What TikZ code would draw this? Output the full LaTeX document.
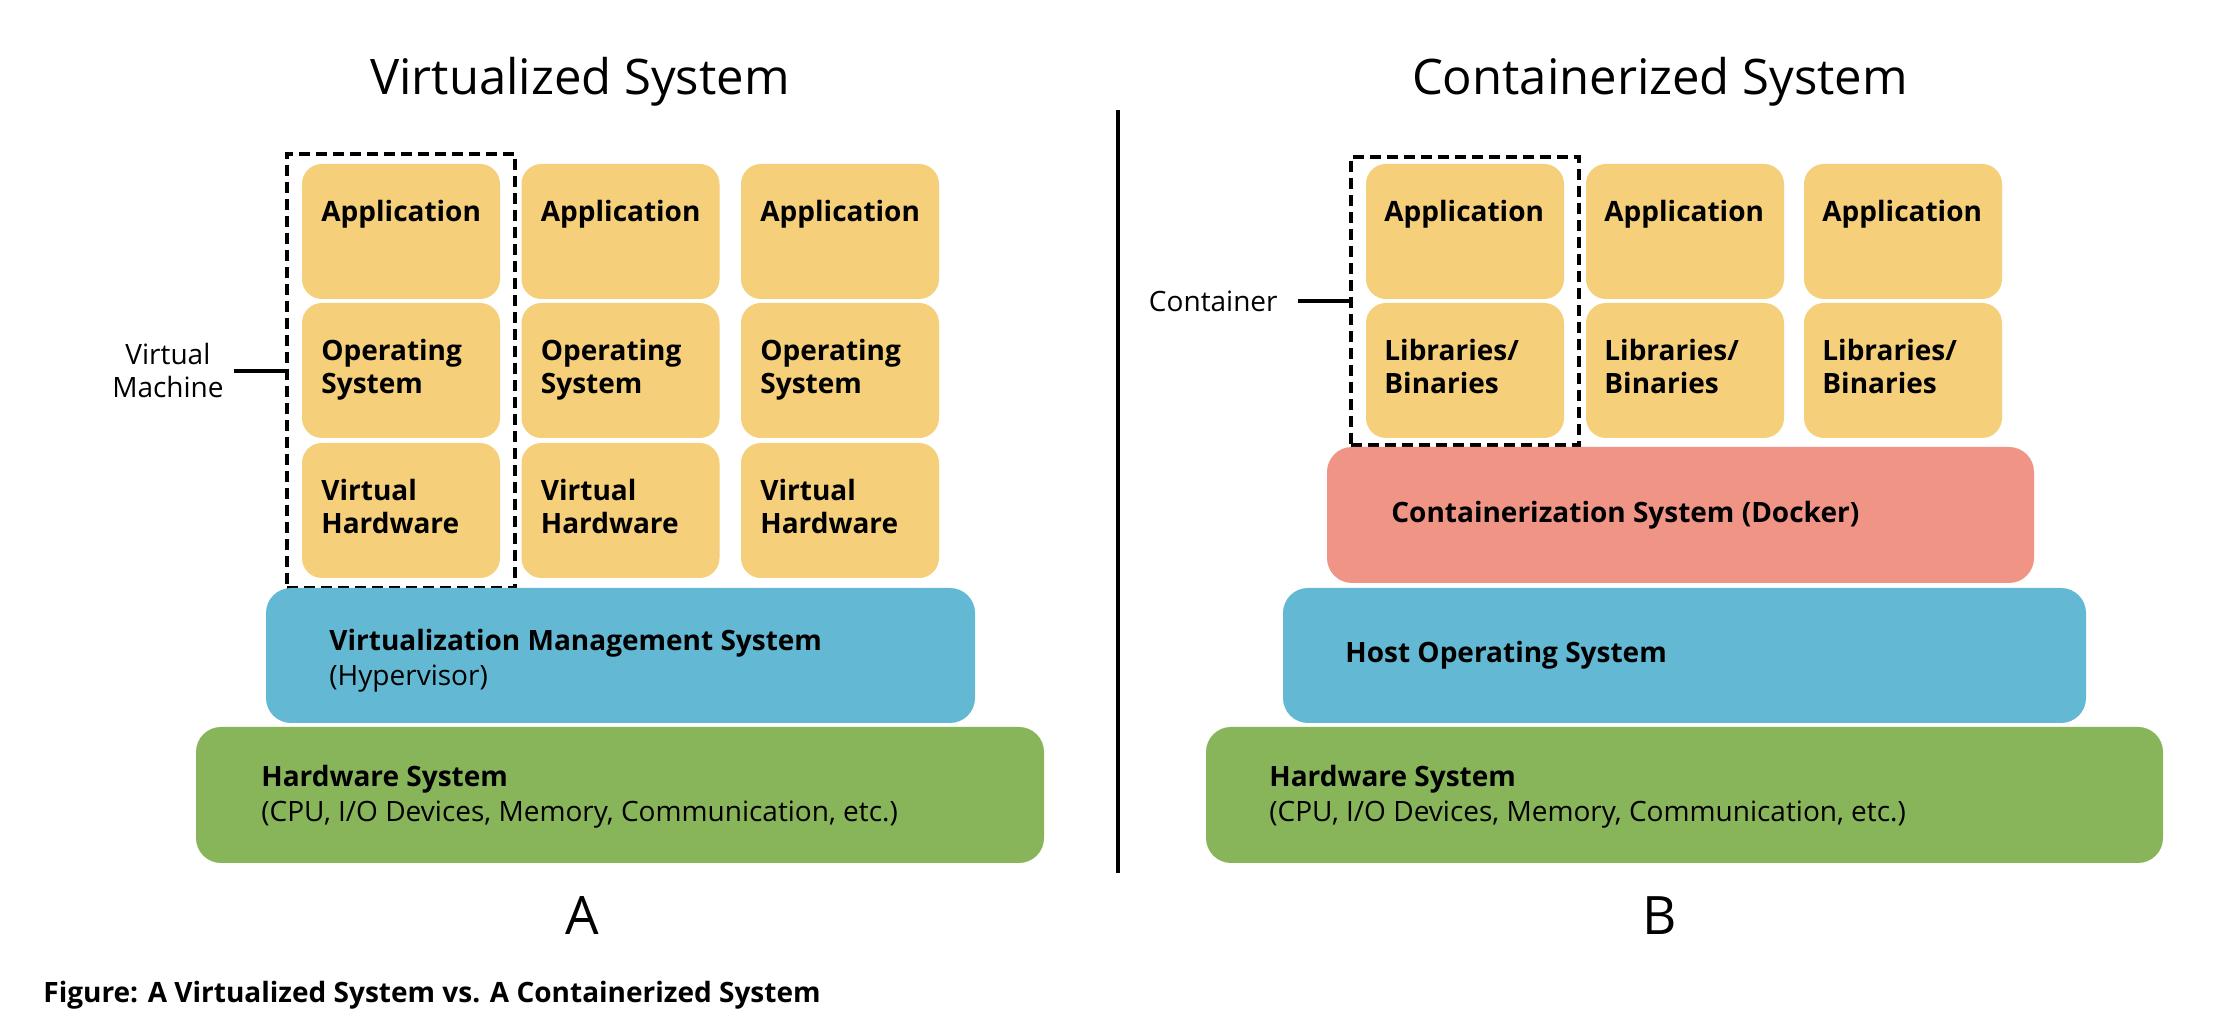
\documentclass[tikz,border=0pt]{standalone}
\usepackage{fontspec}
\setmainfont{Open Sans}
\usetikzlibrary{fit,positioning}

\begin{document}
\begin{tikzpicture}[x=0.5pt,y=0.5pt,
  layer/.style={inner sep=0pt, outer sep=0pt, anchor=north west},
  tile/.style={layer, fill=tileColor, rounded corners=10pt, minimum width=99pt, minimum height=67.5pt},
  slab/.style={layer, rounded corners=12.5pt, minimum height=67.5pt},
  tilelabel/.style={anchor=base west, inner sep=0pt, align=left, font=\fontsize{14}{16.5}\selectfont\bfseries},
  slablabel/.style={anchor=base west, inner sep=0pt, align=left, font=\fontsize{14}{17.5}\selectfont},
  frame/.style={draw=black, line width=2pt, dash pattern=on 5.5pt off 3pt, inner xsep=7.5pt, inner ysep=5pt},
  tick/.style={draw=black, line width=2pt},
  sidelabel/.style={anchor=east, inner sep=0pt, align=center, font=\fontsize{14}{16.5}\selectfont},
  heading/.style={anchor=base, inner sep=0pt, font=\fontsize{24.5}{28}\selectfont},
  letter/.style={anchor=base, inner sep=0pt, font=\fontsize{26.5}{30}\selectfont}]
\definecolor{tileColor}{RGB}{245,207,121}
\definecolor{hostColor}{RGB}{99,184,211}
\definecolor{hwColor}{RGB}{137,181,90}
\definecolor{dockerColor}{RGB}{240,148,134}
\path[use as bounding box,fill=white] (0,0) rectangle (2240,1032);

\node[heading] (vtitle) at (580,937) {Virtualized System};
\node[heading] (ctitle) at (1660,937) {Containerized System};

\path[draw=black,line width=2pt] (1118,159) -- (1118,922);

% virtualized side
\foreach \i/\cx in {1/302,2/521.5,3/741}{
  \node[tile] (vapp\i) at (\cx,868) {};
  \node[tile] (vos\i) at (\cx,729) {};
  \node[tile] (vvh\i) at (\cx,589) {};
  \node[tilelabel] (vapptxt\i) at ([xshift=9.5pt,yshift=-29pt]vapp\i.north west) {Application};
  \node[tilelabel] (vostxt\i) at ([xshift=9.5pt,yshift=-45.5pt]vos\i.north west) {Operating\\System};
  \node[tilelabel] (vvhtxt\i) at ([xshift=9.5pt,yshift=-45.5pt]vvh\i.north west) {Virtual\\Hardware};
}
\node[frame, fit=(vapp1)(vvh1)] (vmframe) {};
\node[sidelabel, left=30.5pt of vmframe.west] (vmlabel) {Virtual\\Machine};
\draw[tick] ([xshift=5pt]vmlabel.east) -- (vmframe.west);

\node[slab, fill=hostColor, minimum width=354.5pt] (vms) at (266,444) {};
\node[slablabel] (vmstxt) at ([xshift=31.5pt,yshift=-49pt]vms.north west) {\textbf{Virtualization Management System}\\(Hypervisor)};
\node[slab, fill=hwColor, minimum width=424pt, minimum height=68pt] (vhw) at (196,305) {};
\node[slablabel] (vhwtxt) at ([xshift=32.5pt,yshift=-47.5pt]vhw.north west) {\textbf{Hardware System}\\(CPU, I/O Devices, Memory, Communication, etc.)};

% containerized side
\foreach \i/\cx in {1/1366,2/1586,3/1804}{
  \node[tile] (capp\i) at (\cx,868) {};
  \node[tile] (clib\i) at (\cx,729) {};
  \node[tilelabel] (capptxt\i) at ([xshift=9pt,yshift=-29pt]capp\i.north west) {Application};
  \node[tilelabel] (clibtxt\i) at ([xshift=9pt,yshift=-45.5pt]clib\i.north west) {Libraries/\\Binaries};
}
\node[frame, inner ysep=3.5pt, fit=(capp1)(clib1)] (ctframe) {};
\node[sidelabel, left=35.5pt of ctframe.west] (ctlabel) {Container};
\draw[tick] ([xshift=10pt]ctlabel.east) -- (ctframe.west);

\node[slab, fill=dockerColor, minimum width=353.5pt, minimum height=68pt] (docker) at (1327,585) {};
\node[slablabel] (dockertxt) at ([xshift=32pt,yshift=-38pt]docker.north west) {\textbf{Containerization System (Docker)}};
\node[slab, fill=hostColor, minimum width=401.5pt] (hos) at (1283,444) {};
\node[slablabel] (hostxt) at ([xshift=31pt,yshift=-37.5pt]hos.north west) {\textbf{Host Operating System}};
\node[slab, fill=hwColor, minimum width=478.5pt, minimum height=68pt] (chw) at (1206,305) {};
\node[slablabel] (chwtxt) at ([xshift=31.5pt,yshift=-47.5pt]chw.north west) {\textbf{Hardware System}\\(CPU, I/O Devices, Memory, Communication, etc.)};

\node[letter] (alabel) at (582,97) {A};
\node[letter] (blabel) at (1660,97) {B};

\node[anchor=base west, inner sep=0pt, font=\fontsize{14}{16.5}\selectfont\bfseries] (caption) at (43,29) {Figure: A Virtualized System vs. A Containerized System};
\end{tikzpicture}
\end{document}
